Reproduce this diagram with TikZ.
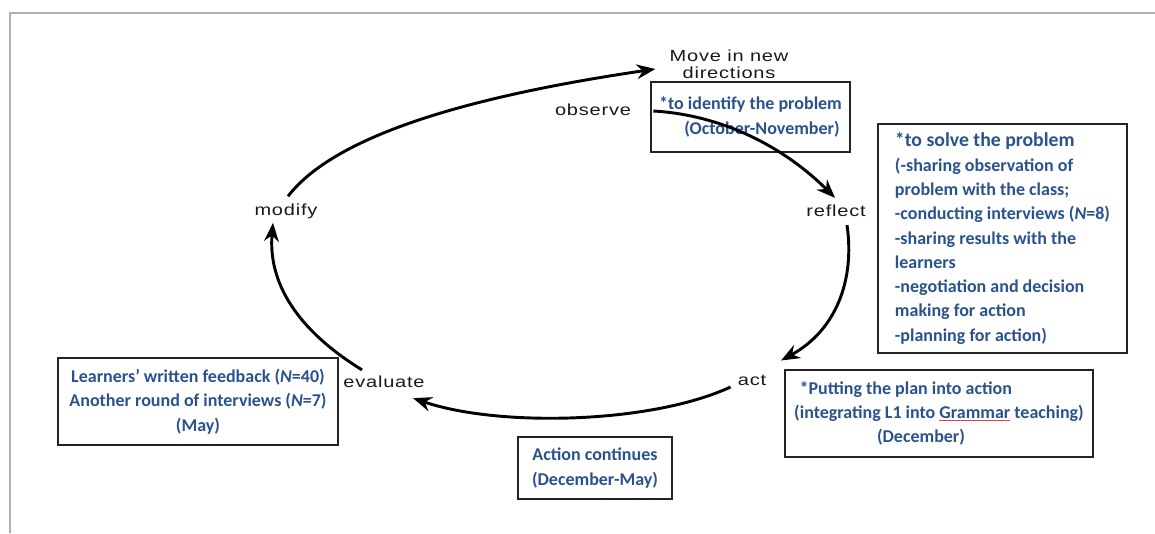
\documentclass[tikz,border=0pt]{standalone}
\usepackage{fontspec}
\setmainfont{Carlito}
\newfontfamily\stagefont[LetterSpace=4]{Liberation Sans}
\usetikzlibrary{arrows.meta,calc}
\definecolor{noteblue}{RGB}{42,82,140}
\definecolor{stageink}{RGB}{25,25,25}
\definecolor{boxline}{RGB}{35,35,35}
\definecolor{framegray}{RGB}{175,175,175}
\definecolor{squiggle}{RGB}{225,60,95}

\begin{document}
\begin{tikzpicture}[x=0.75pt,y=0.75pt,yscale=-1,xscale=1,
    stage/.style={font=\stagefont\fontsize{12}{12.5}\selectfont,xscale=1.25,align=center,inner sep=0pt,text=stageink},
    notebox/.style={draw=boxline,line width=1pt,font=\bfseries\fontsize{13.5}{18.2}\selectfont,text=noteblue,inner sep=0pt},
    turnarrow/.style={line width=2.2pt,-{Stealth[length=14pt,width=11pt]}}]
    \useasboundingbox (0,0) rectangle (1155,533);
    \draw [color=framegray,line width=1.1pt] (10,533) -- (10,13) -- (1155,13);

    \node [stage] (move) at (729,64) {Move in new\\directions};
    \node [stage] (observe) at (593,110) {observe};
    \node [stage] (reflect) at (836,211) {reflect};
    \node [stage] (act) at (752,380) {act};
    \node [stage] (evaluate) at (384,382) {evaluate};
    \node [stage] (modify) at (286,211) {modify};

    \node [notebox,minimum width={199*0.75pt},minimum height={70*0.75pt},align=left] (identify) at (750.5,117) {*to identify the problem\\\hspace*{1.4em}(October-November)};
    \node [notebox,minimum width={249*0.75pt},minimum height={229*0.75pt},align=left] (solve) at (1002.5,238.5) {{\fontsize{14.8}{18.2}\selectfont *to solve the problem}\\(-sharing observation of\\problem with the class;\\-conducting interviews (\textit{N}=8)\hspace*{9pt}\\-sharing results with the\\learners\\-negotiation and decision\\making for action\\-planning for action)};
    \node [notebox,minimum width={308*0.75pt},minimum height={87*0.75pt},align=left] (plan) at (939,413.5) {\hspace*{0.3em}*Putting the plan into action\\(integrating L1 into {\color{squiggle}\underline{\textcolor{noteblue}{Grammar}}} teaching)\\\hspace*{4.6em}(December)};
    \node [notebox,minimum width={154*0.75pt},minimum height={62*0.75pt},align=center] (action) at (595,468) {Action continues\\(December-May)};
    \node [notebox,minimum width={280*0.75pt},minimum height={87*0.75pt},align=center] (feedback) at (198,401.5) {Learners’ written feedback (\textit{N}=40)\\Another round of interviews (\textit{N}=7)\\(May)};

    \draw [turnarrow] ($(modify.north)+(2,-7)$) .. controls +(50,-65) and +(-170,25) .. ($(move.west)+(-14,5)$);
    \draw [turnarrow] ($(observe.east)+(22,1)$) .. controls +(70,4) and +(-50,-50) .. ($(reflect.north)+(-1,-7)$);
    \draw [turnarrow] ($(reflect.south)+(11,8)$) .. controls +(8,55) and +(55,-30) .. ($(act.north)+(29,-14)$);
    \draw [turnarrow] ($(act.west)+(-7,7)$) .. controls +(-80,37) and +(85,29) .. ($(evaluate.south)+(29,10)$);
    \draw [turnarrow] ($(evaluate.north)+(-22,-6)$) .. controls +(-65,-40) and +(-5,60) .. ($(modify.south)+(-13,4)$);
\end{tikzpicture}
\end{document}
